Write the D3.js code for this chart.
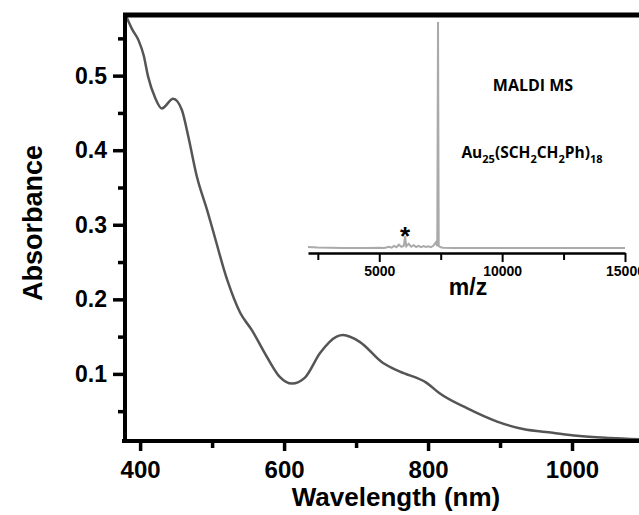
<!DOCTYPE html>
<html>
<head>
<meta charset="utf-8">
<script src="https://cdn.jsdelivr.net/npm/d3@7"></script>
<style>
  body { margin: 0; background: #fff; }
  svg { display: block; font-family: "Liberation Sans", Arial, sans-serif; }
  .axis text { font-weight: bold; fill: #000; }
</style>
</head>
<body>
<div id="chart"></div>
<script>
// UV-vis spectrum
var wavelength = [381, 389, 398, 405, 411, 421, 430, 446, 458, 467, 479, 493, 501, 521, 539, 555, 576, 594, 611, 629, 650, 673, 682, 705, 737, 761, 798, 816, 854, 896, 932, 973, 1007, 1053, 1100];
var absorbance = [0.579, 0.562, 0.547, 0.527, 0.499, 0.470, 0.456, 0.469, 0.454, 0.418, 0.364, 0.320, 0.293, 0.226, 0.182, 0.159, 0.123, 0.096, 0.087, 0.095, 0.128, 0.150, 0.152, 0.143, 0.115, 0.103, 0.088, 0.074, 0.054, 0.036, 0.026, 0.021, 0.017, 0.014, 0.012];

// MALDI MS inset
var mz        = [2100, 2500, 3000, 3500, 4000, 4500, 5000, 5200, 5400, 5500, 5600, 5700, 5800, 5900, 6000, 6050, 6100, 6200, 6300, 6400, 6500, 6600, 6700, 6800, 6900, 7000, 7100, 7200, 7300, 7360, 7391, 7420, 7500, 7600, 8000, 9000, 10000, 12000, 15000];
var intensity = [0.026, 0.024, 0.023, 0.022, 0.022, 0.022, 0.023, 0.022, 0.027, 0.023, 0.031, 0.025, 0.036, 0.027, 0.031, 0.072, 0.029, 0.040, 0.027, 0.034, 0.026, 0.031, 0.025, 0.030, 0.026, 0.029, 0.025, 0.031, 0.046, 0.030, 1.0, 0.030, 0.025, 0.023, 0.022, 0.022, 0.022, 0.022, 0.022];

var xMajor = [400, 600, 800, 1000];
var xMinor = [500, 700, 900];
var yMajor = [0.1, 0.2, 0.3, 0.4, 0.5];
var yMinor = [0.05, 0.15, 0.25, 0.35, 0.45, 0.55];
var mzMajor = [5000, 10000, 15000];
var mzMinor = [2500, 7500, 12500];

var svg = d3.select("#chart").append("svg")
    .attr("width", 639)
    .attr("height", 515);

// main scales
var x = d3.scaleLinear().domain([379, 1100]).range([125, 644]);
var y = d3.scaleLinear().domain([0.01, 0.58]).range([441, 16]);

// inset scales
var xi = d3.scaleLinear().domain([2100, 15000]).range([308, 625]);
var yi = d3.scaleLinear().domain([0, 1]).range([253, 22]);

// inset spectrum (drawn first, under the axes)
var msLine = d3.line()
    .x(function(d, i) { return xi(mz[i]); })
    .y(function(d, i) { return yi(intensity[i]); });
svg.append("path")
    .datum(mz)
    .attr("d", msLine)
    .attr("fill", "none")
    .attr("stroke", "#aaa")
    .attr("stroke-width", 2);

// inset axis
var ia = svg.append("g")
    .attr("class", "axis")
    .attr("transform", "translate(0,253)")
    .call(d3.axisBottom(xi).tickValues(mzMajor).tickFormat(d3.format("d")).tickSize(9).tickSizeOuter(0).tickPadding(4));
ia.select(".domain").attr("stroke-width", 2.5);
ia.selectAll(".tick line").attr("stroke-width", 2);
ia.selectAll("text").attr("font-size", 14);
var iam = svg.append("g")
    .attr("transform", "translate(0,253)")
    .call(d3.axisBottom(xi).tickValues(mzMinor).tickSize(7).tickFormat(""));
iam.select(".domain").remove();
iam.selectAll(".tick line").attr("stroke-width", 2);

svg.append("text")
    .attr("x", 468).attr("y", 295)
    .attr("text-anchor", "middle")
    .attr("font-size", 23).attr("font-weight", "bold")
    .text("m/z");

svg.append("text")
    .attr("x", xi(6050)).attr("y", 245)
    .attr("text-anchor", "middle")
    .attr("font-size", 26).attr("font-weight", "bold")
    .text("*");

svg.append("text")
    .attr("x", 533).attr("y", 91)
    .attr("text-anchor", "middle")
    .attr("font-family", "'Open Sans', sans-serif")
    .attr("font-size", 16).attr("font-weight", "bold")
    .text("MALDI MS");

var formula = svg.append("text")
    .attr("x", 532).attr("y", 158)
    .attr("text-anchor", "middle")
    .attr("font-family", "'Open Sans', sans-serif")
    .attr("font-size", 15.5).attr("font-weight", "bold");
[["Au", 0], ["25", 1], ["(SCH", 0], ["2", 1], ["CH", 0], ["2", 1], ["Ph)", 0], ["18", 1]].forEach(function(p, i, arr) {
  var prev = i > 0 ? arr[i - 1][1] : 0;
  formula.append("tspan")
      .attr("font-size", p[1] ? 11 : 15.5)
      .attr("dy", (p[1] - prev) * 4.5)
      .text(p[0]);
});

// main curve
var line = d3.line()
    .curve(d3.curveMonotoneX)
    .x(function(d, i) { return x(wavelength[i]); })
    .y(function(d, i) { return y(absorbance[i]); });

svg.append("clipPath").attr("id", "clip")
  .append("rect").attr("x", 125).attr("y", 15).attr("width", 520).attr("height", 426);

svg.append("path")
    .datum(wavelength)
    .attr("clip-path", "url(#clip)")
    .attr("d", line)
    .attr("fill", "none")
    .attr("stroke", "#555")
    .attr("stroke-width", 2.5);

// x axis
var gx = svg.append("g")
    .attr("class", "axis")
    .attr("transform", "translate(0,441)")
    .call(d3.axisBottom(x).tickValues(xMajor).tickFormat(d3.format("d")).tickSize(10).tickSizeOuter(0).tickPadding(10));
gx.select(".domain").attr("stroke-width", 4).attr("d", "M122,0H639");
gx.selectAll(".tick line").attr("stroke-width", 3.5);
gx.selectAll("text").attr("font-size", 24);
var gxm = svg.append("g")
    .attr("transform", "translate(0,441)")
    .call(d3.axisBottom(x).tickValues(xMinor).tickSize(7).tickFormat(""));
gxm.select(".domain").remove();
gxm.selectAll(".tick line").attr("stroke-width", 3.5);

// y axis
var gy = svg.append("g")
    .attr("class", "axis")
    .attr("transform", "translate(125,0)")
    .call(d3.axisLeft(y).tickValues(yMajor).tickFormat(d3.format(".1f")).tickSize(12).tickSizeOuter(0).tickPadding(6));
gy.select(".domain").attr("stroke-width", 4).attr("d", "M0,15V443");
gy.selectAll(".tick line").attr("stroke-width", 3.5);
gy.selectAll("text").attr("font-size", 23);
var gym = svg.append("g")
    .attr("transform", "translate(125,0)")
    .call(d3.axisLeft(y).tickValues(yMinor).tickSize(7).tickFormat(""));
gym.select(".domain").remove();
gym.selectAll(".tick line").attr("stroke-width", 3.5);

// top frame
svg.append("line")
    .attr("x1", 123).attr("x2", 639)
    .attr("y1", y(0.58) - 1).attr("y2", y(0.58) - 1)
    .attr("stroke", "#000").attr("stroke-width", 5);

// axis titles
svg.append("text")
    .attr("x", 396).attr("y", 506)
    .attr("text-anchor", "middle")
    .attr("font-size", 26).attr("font-weight", "bold")
    .text("Wavelength (nm)");

svg.append("text")
    .attr("transform", "translate(42,223)rotate(-90)")
    .attr("text-anchor", "middle")
    .attr("font-size", 27).attr("font-weight", "bold")
    .text("Absorbance");
</script>
</body>
</html>
